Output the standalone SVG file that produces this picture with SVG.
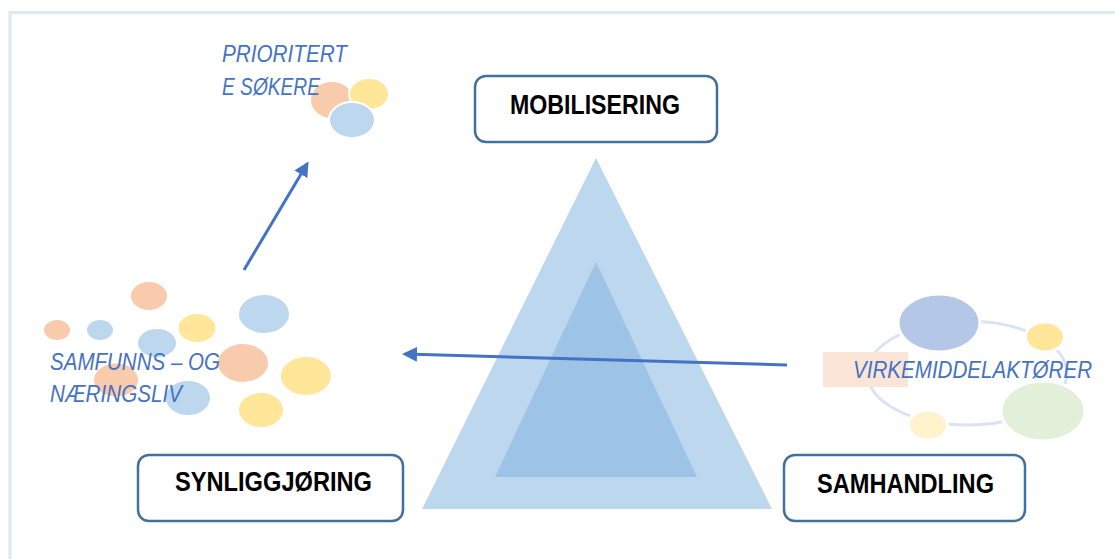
<svg xmlns="http://www.w3.org/2000/svg" width="1115" height="559" viewBox="0 0 1115 559">
<style>
.frame{fill:none;stroke:#dde8f5;stroke-width:3}
.box{fill:#fff;stroke:#41719c;stroke-width:2.5}
.lbl{font-family:"Liberation Sans",Arial,sans-serif;font-weight:bold;font-size:27px;fill:#000;text-anchor:start}
.it{font-family:"Liberation Sans",Arial,sans-serif;font-style:italic;font-size:23.5px;fill:#4472c4}
.pe{fill:#f8cbad;stroke:#fff;stroke-width:2}
.ye{fill:#ffe699;stroke:#fff;stroke-width:2}
.bl{fill:#bdd7ee;stroke:#fff;stroke-width:2}
.conn{fill:none;stroke:#4472c4;stroke-width:3}
</style>
<defs>
<marker id="ah" viewBox="0 0 10 10" refX="8" refY="5" markerWidth="15" markerHeight="15" markerUnits="userSpaceOnUse" orient="auto">
<path d="M0,0 L10,5 L0,10 Z" fill="#4472c4"/>
</marker>
</defs>
<rect width="1115" height="559" fill="#fff"/>
<path class="frame" d="M10,559 V12.5 H1115"/>

<g id="pyramid">
<polygon points="596,158 772,509 422,509" fill="#bdd7ee"/>
<polygon points="596,262 697,477 495,477" fill="#9dc3e6"/>
</g>

<g id="prioriterte">
<ellipse class="pe" cx="332" cy="100" rx="22" ry="19"/>
<ellipse class="ye" cx="369" cy="94" rx="20" ry="16"/>
<ellipse class="bl" cx="352" cy="120" rx="23" ry="18"/>
<text class="it" x="222" y="62" textLength="125" lengthAdjust="spacingAndGlyphs">PRIORITERT</text>
<text class="it" x="222" y="95" textLength="98" lengthAdjust="spacingAndGlyphs">E SØKERE</text>
</g>

<g id="samfunnsliv">
<ellipse class="pe" cx="149" cy="296" rx="19" ry="15"/>
<ellipse class="pe" cx="57" cy="330" rx="14" ry="11"/>
<ellipse class="bl" cx="100" cy="330" rx="14" ry="11"/>
<ellipse class="ye" cx="197" cy="328" rx="19.5" ry="15"/>
<ellipse class="bl" cx="264" cy="314" rx="26" ry="20"/>
<ellipse class="bl" cx="157" cy="343" rx="20" ry="15"/>
<ellipse class="pe" cx="243" cy="363" rx="26" ry="20"/>
<ellipse class="pe" cx="116" cy="380" rx="23" ry="17.5"/>
<ellipse class="ye" cx="306" cy="376" rx="26" ry="20"/>
<ellipse class="bl" cx="188" cy="398" rx="23" ry="18"/>
<ellipse class="ye" cx="261" cy="410" rx="23" ry="18"/>
<text class="it" x="50" y="370" textLength="170" lengthAdjust="spacingAndGlyphs">SAMFUNNS – OG</text>
<text class="it" x="50" y="402" textLength="132" lengthAdjust="spacingAndGlyphs">NÆRINGSLIV</text>
</g>

<g id="virkemiddel">
<ellipse cx="967" cy="373" rx="100" ry="52" fill="none" stroke="#dae3f3" stroke-width="3"/>
<ellipse cx="939" cy="323" rx="41" ry="29" fill="#b4c7e7" stroke="#fff" stroke-width="3"/>
<ellipse cx="1045" cy="337" rx="19.5" ry="15" fill="#ffe699" stroke="#fff" stroke-width="3"/>
<ellipse cx="1043" cy="411" rx="42" ry="30" fill="#e2f0d9" stroke="#fff" stroke-width="3"/>
<ellipse cx="928" cy="425" rx="19.5" ry="15" fill="#fff2cc" stroke="#fff" stroke-width="3"/>
<rect x="823" y="352" width="85" height="35" fill="#fbe5d6"/>
<text class="it" x="853" y="378" textLength="239" lengthAdjust="spacingAndGlyphs">VIRKEMIDDELAKTØRER</text>
</g>

<g id="mobilisering">
<rect class="box" x="475" y="76" width="242" height="66" rx="11"/>
<text class="lbl" x="510" y="114" textLength="170" lengthAdjust="spacingAndGlyphs">MOBILISERING</text>
</g>

<g id="synliggjoring">
<rect class="box" x="138" y="455" width="265" height="66" rx="11"/>
<text class="lbl" x="175" y="491" textLength="197" lengthAdjust="spacingAndGlyphs">SYNLIGGJØRING</text>
</g>

<g id="samhandling">
<rect class="box" x="784" y="455" width="241" height="66" rx="11"/>
<text class="lbl" x="817" y="493" textLength="177" lengthAdjust="spacingAndGlyphs">SAMHANDLING</text>
</g>

<g id="connectors">
<line class="conn" x1="787" y1="365" x2="405" y2="354" marker-end="url(#ah)"/>
<line class="conn" x1="244" y1="270" x2="307" y2="164" marker-end="url(#ah)"/>
</g>
</svg>
